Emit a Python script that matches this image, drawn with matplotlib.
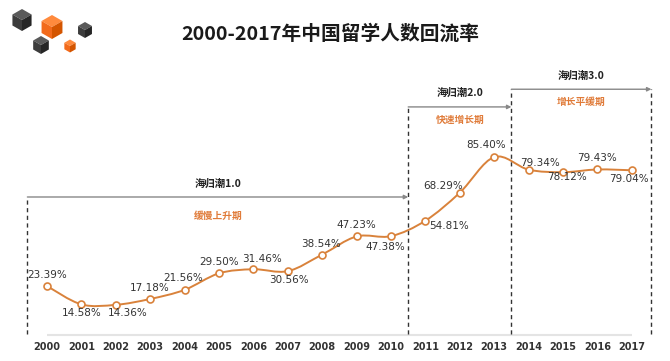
import numpy as np
import matplotlib
matplotlib.use("Agg")
import matplotlib.pyplot as plt
from matplotlib.path import Path
from matplotlib.patches import PathPatch, Polygon

# datos
years = ['2000', '2001', '2002', '2003', '2004', '2005', '2006', '2007', '2008',
         '2009', '2010', '2011', '2012', '2013', '2014', '2015', '2016', '2017']
rates = [23.39, 14.58, 14.36, 17.18, 21.56, 29.50, 31.46, 30.56, 38.54,
         47.23, 47.38, 54.81, 68.29, 85.40, 79.34, 78.12, 79.43, 79.04]
phase_names = ['海归潮1.0', '海归潮2.0', '海归潮3.0']
phase_desc = ['缓慢上升期', '快速增长期', '增长平缓期']
title = '2000-2017年中国留学人数回流率'

# desplazamiento de las etiquetas (pixeles)
label_offsets = [(0, 11), (0, -9), (12, -8), (-1, 11), (-1, 12), (0, 11), (9, 10),
                 (1, -9), (-1, 11), (0, 11), (-6, -11), (24, -5), (-17, 7), (-8, 12),
                 (11, 7), (4, -5), (0, 11), (-3, -9)]

cjk = ['Noto Sans CJK SC', 'DejaVu Sans']
line_color = '#D9823B'
orange_text = '#E07B39'

fig = plt.figure(figsize=(6.7, 3.61), dpi=100)
ax = fig.add_axes([0, 0, 1, 1])
ax.set_xlim(-1.366, 18.11)
ax.set_ylim(-12.64, 160.9)
ax.axis('off')

x = np.arange(len(years))
y = np.array(rates)

# linea base
ax.hlines(0, 0, len(years) - 1, color='#e4e4e4', lw=1.5, zorder=1)

# curva suavizada (Catmull-Rom -> Bezier)
pts = np.column_stack([x, y])
ext = np.vstack([pts[0], pts, pts[-1]])
verts = [tuple(pts[0])]
codes = [Path.MOVETO]
for i in range(len(pts) - 1):
    p0, p1, p2, p3 = ext[i], ext[i + 1], ext[i + 2], ext[i + 3]
    c1 = p1 + (p2 - p0) / 6
    c2 = p2 - (p3 - p1) / 6
    verts += [tuple(c1), tuple(c2), tuple(p2)]
    codes += [Path.CURVE4] * 3
ax.add_patch(PathPatch(Path(verts, codes), fill=False, edgecolor=line_color, lw=1.4, zorder=3))
ax.plot(x, y, 'o', ms=5, mfc='white', mec=line_color, mew=1.2, zorder=4)

for xi, yi, (dx, dy) in zip(x, y, label_offsets):
    ax.annotate(f'{yi:.2f}%', (xi, yi), xytext=(dx, dy), textcoords='offset pixels',
                ha='center', va='center', fontsize=7.5, color='#333333', zorder=5)

for xi, lab in zip(x, years):
    ax.text(xi, -5.9, lab, ha='center', va='center', fontsize=7, fontweight='bold',
            color='#333333')

# fases
bounds = [(-0.57, 10.5), (10.5, 13.5), (13.5, 17.57)]
arrow_y = [66.2, 109.5, 118.0]
name_dy = [13, 14, 14]
desc_dy = [-19, -13, -13]
for (x0, x1), ay, name, desc, ndy, ddy in zip(bounds, arrow_y, phase_names, phase_desc,
                                              name_dy, desc_dy):
    ax.annotate('', xy=(x1, ay), xytext=(x0, ay),
                arrowprops=dict(arrowstyle='-|>', color='#888888', lw=1.0,
                                mutation_scale=6, shrinkA=0, shrinkB=0))
    xm = (x0 + x1) / 2
    ax.annotate(name, (xm, ay), xytext=(0, ndy), textcoords='offset pixels',
                ha='center', va='center', fontsize=7.5, fontweight='bold',
                family=cjk, color='#222222')
    ax.annotate(desc, (xm, ay), xytext=(0, ddy), textcoords='offset pixels',
                ha='center', va='center', fontsize=7, fontweight='bold',
                family=cjk, color=orange_text)

ax.vlines(-0.57, 0.5, 66.2, colors='#333333', linestyles=(0, (3, 2.5)), lw=1.0)
ax.vlines(10.5, 0.5, 109.5, colors='#333333', linestyles=(0, (3, 2.5)), lw=1.0)
ax.vlines(13.5, 0.5, 118.0, colors='#333333', linestyles=(0, (3, 2.5)), lw=1.0)
ax.vlines(17.57, 0.5, 118.0, colors='#333333', linestyles=(0, (3, 2.5)), lw=1.0)

# titulo
fig.text(0.493, 0.905, title, ha='center', va='center', fontsize=14.2,
         fontweight='bold', family=cjk, color='#1a1a1a')

# logo de cubos
deco = fig.add_axes([0, 0, 1, 1])
deco.set_xlim(0, 670)
deco.set_ylim(361, 0)
deco.axis('off')


def cube(cx, cy, s, top, left, right):
    w = 0.87 * s
    deco.add_patch(Polygon([(cx, cy - s), (cx + w, cy - s / 2), (cx, cy), (cx - w, cy - s / 2)],
                           closed=True, fc=top, ec='none'))
    deco.add_patch(Polygon([(cx - w, cy - s / 2), (cx, cy), (cx, cy + s), (cx - w, cy + s / 2)],
                           closed=True, fc=left, ec='none'))
    deco.add_patch(Polygon([(cx, cy), (cx + w, cy - s / 2), (cx + w, cy + s / 2), (cx, cy + s)],
                           closed=True, fc=right, ec='none'))


dark = ('#5a5a5a', '#3c3c3c', '#262626')
orng = ('#ff8a3d', '#f26a1b', '#d45500')
cube(22, 20, 11, *dark)
cube(52, 27, 12, *orng)
cube(85, 30, 8, *dark)
cube(41, 45, 9, *dark)
cube(70, 46, 6.5, *orng)

plt.savefig('out.png', dpi=100)
